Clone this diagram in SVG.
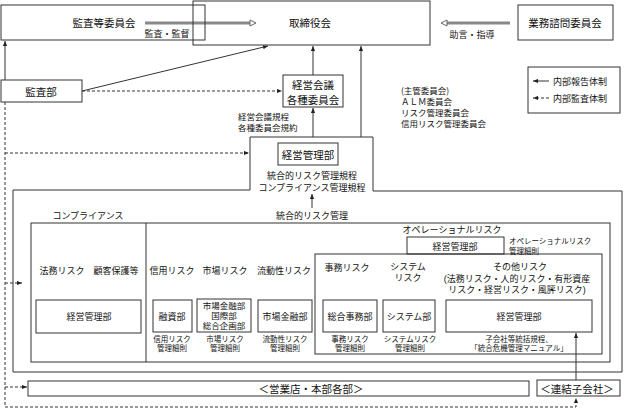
<svg xmlns="http://www.w3.org/2000/svg" width="625" height="409" viewBox="0 0 625 409">
<defs>
<marker id="ah" viewBox="0 0 6 6" refX="6" refY="3" markerWidth="5" markerHeight="5" orient="auto"><path d="M0,0.5 L6,3 L0,5.5 z" fill="#222"/></marker>
</defs>
<style>
.b{fill:none;stroke:#333;stroke-width:1}
.l{fill:none;stroke:#333;stroke-width:1}
.d{fill:none;stroke:#333;stroke-width:1;stroke-dasharray:3 2}
.g{fill:none;stroke:#888;stroke-width:3}
.gh{fill:#fff;stroke:#666;stroke-width:1}
text{font-family:"Noto Sans CJK JP","Noto Sans CJK SC",sans-serif;fill:#111;text-anchor:middle;dominant-baseline:central}
.t{font-size:10.5px}
.m{font-size:9px}
.r{font-size:8.5px}
.s{font-size:7.5px}
.ml{font-family:"Liberation Sans","Noto Sans CJK JP",sans-serif}
.st{text-anchor:start}
</style>
<rect width="625" height="409" fill="#fff"/>

<g id="connectors">
<line class="g" x1="145" y1="23" x2="252" y2="23"/>
<path class="gh" d="M250,20 L256,23 L250,26 z"/>
<line class="g" x1="510" y1="23" x2="445" y2="23"/>
<path class="gh" d="M447,20 L441,23 L447,26 z"/>
<line class="l" x1="82" y1="91" x2="268" y2="46" marker-end="url(#ah)"/>
<line class="l" x1="5" y1="80" x2="5" y2="41" marker-end="url(#ah)"/>
<line class="d" x1="82" y1="91" x2="282" y2="91" marker-end="url(#ah)"/>
<line class="l" x1="313" y1="75" x2="313" y2="46" marker-end="url(#ah)"/>
<line class="l" x1="313" y1="137" x2="313" y2="108" marker-end="url(#ah)"/>
<line class="l" x1="361" y1="137" x2="361" y2="46" marker-end="url(#ah)"/>
<line class="l" x1="312" y1="208" x2="312" y2="194" marker-end="url(#ah)"/>
<path class="d" d="M5,102 V407 H576 V398" marker-end="url(#ah)"/>
<line class="d" x1="5" y1="153" x2="249" y2="153" marker-end="url(#ah)"/>
<line class="d" x1="5" y1="283" x2="22" y2="283" marker-end="url(#ah)"/>
<line class="d" x1="5" y1="387" x2="27" y2="387" marker-end="url(#ah)"/>
<line class="l" x1="576" y1="380" x2="576" y2="333" marker-end="url(#ah)"/>
<text class="m" x="167" y="33">監査・監督</text>
<text class="m" x="472" y="34">助言・指導</text>
</g>

<g id="kansa-iinkai"><rect class="b" x="1" y="5" width="204" height="35"/><text class="t" x="104" y="22">監査等委員会</text></g>
<g id="torishimariyakukai"><rect class="b" x="193" y="1" width="237" height="44"/><text class="t" x="310" y="22">取締役会</text></g>
<g id="gyomu-shimon"><rect class="b" x="518" y="5" width="95" height="35"/><text class="t" x="565" y="22">業務諮問委員会</text></g>
<g id="legend">
<rect class="b" x="528" y="67" width="92" height="46"/>
<line class="l" x1="549" y1="81" x2="533" y2="81" marker-end="url(#ah)"/>
<line class="d" x1="549" y1="98" x2="533" y2="98" marker-end="url(#ah)"/>
<text class="m st" x="553" y="81">内部報告体制</text>
<text class="m st" x="553" y="98">内部監査体制</text>
</g>
<g id="kansabu"><rect class="b" x="1" y="80" width="81" height="22"/><text class="t" x="41" y="91">監査部</text></g>
<g id="keiei-kaigi"><rect class="b" x="283" y="75" width="60" height="32"/><text class="t" x="313" y="84">経営会議</text><text class="t" x="313" y="99">各種委員会</text></g>
<g id="shukan">
<text class="r st" x="401" y="90">(主管委員会)</text>
<text class="r st" x="401" y="101">ＡＬＭ委員会</text>
<text class="r st" x="401" y="112">リスク管理委員会</text>
<text class="r st" x="401" y="123">信用リスク管理委員会</text>
</g>
<g id="kitei"><text class="r st" x="238" y="116">経営会議規程</text><text class="r st" x="238" y="127">各種委員会規約</text></g>

<g id="togo-outline">
<path class="b" d="M250,137 H373 V191 H622 V372 H13 V190 H250 Z"/>
</g>
<g id="keiei-kanribu"><rect class="b" x="278" y="143" width="60" height="22"/><text class="t" x="308" y="154">経営管理部</text>
<text class="m" x="312" y="175">統合的リスク管理規程</text>
<text class="m" x="312" y="187">コンプライアンス管理規程</text>
</g>
<text class="m" x="312" y="215">統合的リスク管理</text>
<text class="m" x="88" y="215">コンプライアンス</text>

<g id="inner-box"><rect class="b" x="31" y="223" width="579" height="139"/><line class="l" x1="146" y1="223" x2="146" y2="362"/></g>

<g id="compliance">
<text class="m" x="89" y="270">法務リスク　顧客保護等</text>
<rect class="b" x="36" y="300" width="105" height="33"/><text class="m" x="89" y="316">経営管理部</text>
</g>
<g id="shinyo"><text class="m" x="172" y="270">信用リスク</text><rect class="b" x="153" y="300" width="39" height="32"/><text class="m" x="172" y="316">融資部</text>
<text class="s ml" x="172" y="339">信用リスク</text><text class="s ml" x="172" y="348">管理細則</text></g>
<g id="shijo"><text class="m" x="225" y="270">市場リスク</text><rect class="b" x="197" y="299" width="54" height="33"/>
<text class="r ml" x="224" y="306">市場金融部</text><text class="r ml" x="224" y="315.8">国際部</text><text class="r ml" x="224" y="325.6">総合企画部</text>
<text class="s ml" x="225" y="339">市場リスク</text><text class="s ml" x="225" y="348">管理細則</text></g>
<g id="ryudosei"><text class="m" x="284" y="270">流動性リスク</text><rect class="b" x="258" y="300" width="54" height="32"/><text class="m" x="285" y="316">市場金融部</text>
<text class="s ml" x="285" y="339">流動性リスク</text><text class="s ml" x="285" y="348">管理細則</text></g>

<g id="operational">
<text class="m" x="452" y="229">オペレーショナルリスク</text>
<rect class="b" x="315" y="254" width="287" height="100"/>
<rect class="b" x="407" y="237" width="97" height="17"/><text class="m" x="455" y="246">経営管理部</text>
<text class="s st" x="509" y="240">オペレーショナルリスク</text><text class="s st" x="509" y="250">管理細則</text>
</g>
<g id="jimu"><text class="m" x="347" y="267">事務リスク</text><rect class="b" x="323" y="300" width="54" height="32"/><text class="m" x="350" y="316">総合事務部</text>
<text class="s ml" x="350" y="339">事務リスク</text><text class="s ml" x="350" y="348">管理細則</text></g>
<g id="system"><text class="m ml" x="408" y="267">システム</text><text class="m ml" x="408" y="278">リスク</text><rect class="b" x="383" y="300" width="52" height="32"/><text class="m" x="409" y="316">システム部</text>
<text class="s ml" x="410" y="339">システムリスク</text><text class="s ml" x="410" y="348">管理細則</text></g>
<g id="sonota"><text class="m ml" x="520" y="267">その他リスク</text>
<text class="m ml" x="517" y="279">(法務リスク・人的リスク・有形資産</text>
<text class="m ml" x="517" y="290">リスク・経営リスク・風評リスク)</text>
<rect class="b" x="446" y="300" width="146" height="32"/><text class="m" x="519" y="316">経営管理部</text>
<text class="s ml" x="519" y="339">子会社等統括規程、</text><text class="s ml" x="519" y="348">「統合危機管理マニュアル」</text></g>

<g id="eigyoten"><rect class="b" x="28" y="381" width="501" height="15"/><text class="t" x="311" y="388">＜営業店・本部各部＞</text></g>
<g id="renketsu"><rect class="b" x="537" y="380" width="83" height="16"/><text class="t" x="577" y="388">＜連結子会社＞</text></g>
</svg>
